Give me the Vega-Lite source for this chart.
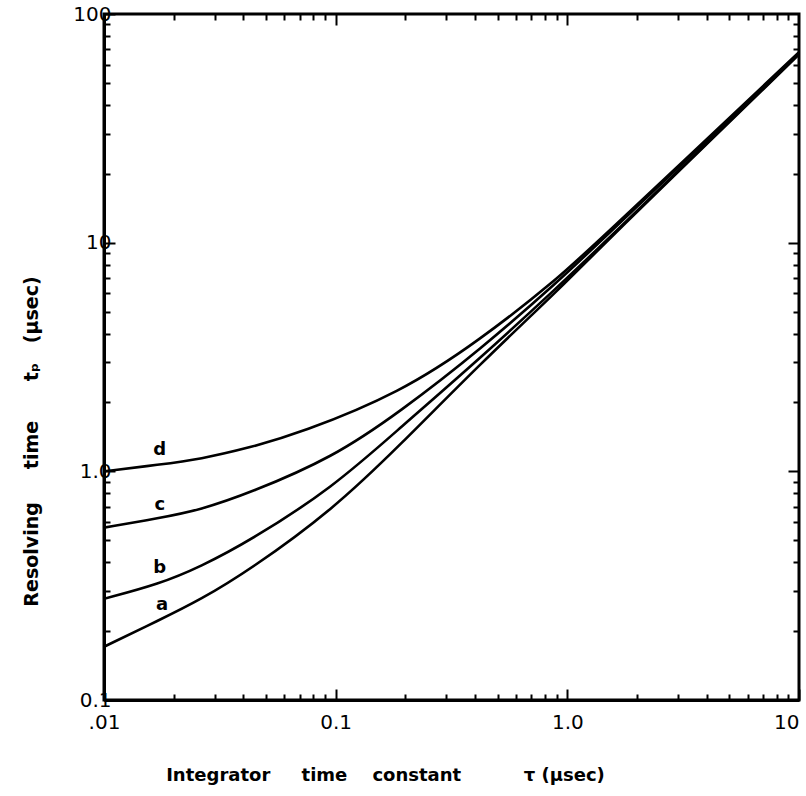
{
  "$schema": "https://vega.github.io/schema/vega-lite/v6.json",
  "width": 695,
  "height": 686,
  "autosize": {"type": "none"},
  "padding": {"left": 104, "top": 14, "right": 7, "bottom": 96},
  "background": "white",
  "config": {
    "view": {"stroke": "black", "strokeWidth": 3},
    "font": "DejaVu Sans",
    "axis": {"grid": false, "domainColor": "black", "domainWidth": 3, "tickColor": "black", "tickWidth": 2, "labelColor": "black", "titleColor": "black", "labelFont": "DejaVu Sans", "titleFont": "DejaVu Sans"}
  },
  "datasets": {
    "curves": [
      {"curve": "d", "tau": 0.01, "tp": 1.0},
      {"curve": "d", "tau": 0.0174, "tp": 1.07},
      {"curve": "d", "tau": 0.026, "tp": 1.13},
      {"curve": "d", "tau": 0.0427, "tp": 1.27},
      {"curve": "d", "tau": 0.0702, "tp": 1.47},
      {"curve": "d", "tau": 0.1895, "tp": 2.2},
      {"curve": "d", "tau": 0.42, "tp": 3.75},
      {"curve": "d", "tau": 0.929, "tp": 7.08},
      {"curve": "d", "tau": 1.38, "tp": 10.3},
      {"curve": "d", "tau": 10, "tp": 68},
      {"curve": "c", "tau": 0.01, "tp": 0.567},
      {"curve": "c", "tau": 0.0174, "tp": 0.625},
      {"curve": "c", "tau": 0.026, "tp": 0.678},
      {"curve": "c", "tau": 0.0427, "tp": 0.805},
      {"curve": "c", "tau": 0.0973, "tp": 1.15},
      {"curve": "c", "tau": 0.1895, "tp": 1.82},
      {"curve": "c", "tau": 0.42, "tp": 3.4},
      {"curve": "c", "tau": 0.929, "tp": 6.87},
      {"curve": "c", "tau": 1.38, "tp": 10.07},
      {"curve": "c", "tau": 10, "tp": 67.5},
      {"curve": "b", "tau": 0.01, "tp": 0.277},
      {"curve": "b", "tau": 0.0174, "tp": 0.322},
      {"curve": "b", "tau": 0.026, "tp": 0.382},
      {"curve": "b", "tau": 0.0427, "tp": 0.497},
      {"curve": "b", "tau": 0.0973, "tp": 0.85},
      {"curve": "b", "tau": 0.1895, "tp": 1.549},
      {"curve": "b", "tau": 0.42, "tp": 3.12},
      {"curve": "b", "tau": 0.929, "tp": 6.53},
      {"curve": "b", "tau": 1.38, "tp": 9.57},
      {"curve": "b", "tau": 10, "tp": 67},
      {"curve": "a", "tau": 0.01, "tp": 0.171},
      {"curve": "a", "tau": 0.0174, "tp": 0.224},
      {"curve": "a", "tau": 0.026, "tp": 0.274},
      {"curve": "a", "tau": 0.0427, "tp": 0.371},
      {"curve": "a", "tau": 0.0973, "tp": 0.68},
      {"curve": "a", "tau": 0.1895, "tp": 1.3},
      {"curve": "a", "tau": 0.42, "tp": 2.95},
      {"curve": "a", "tau": 0.929, "tp": 6.3},
      {"curve": "a", "tau": 1.38, "tp": 9.5},
      {"curve": "a", "tau": 10, "tp": 66.5}
    ],
    "labels": [
      {"label": "d", "tau": 0.0174, "tp": 1.24},
      {"label": "c", "tau": 0.0174, "tp": 0.713},
      {"label": "b", "tau": 0.0174, "tp": 0.378},
      {"label": "a", "tau": 0.0178, "tp": 0.261}
    ]
  },
  "layer": [
    {
      "data": {"name": "curves"},
      "mark": {"type": "line", "color": "black", "strokeWidth": 2.6, "interpolate": "basis", "clip": true},
      "encoding": {
        "x": {
          "field": "tau", "type": "quantitative",
          "scale": {"type": "log", "domain": [0.01, 10], "nice": false},
          "axis": {
            "orient": "bottom",
            "values": [0.01, 0.02, 0.03, 0.04, 0.05, 0.06, 0.07, 0.08, 0.09, 0.1, 0.2, 0.3, 0.4, 0.5, 0.6, 0.7, 0.8, 0.9, 1, 2, 3, 4, 5, 6, 7, 8, 9, 10],
            "labelExpr": "datum.value == 0.01 ? '.01' : datum.value == 0.1 ? '0.1' : datum.value == 1 ? '1.0' : datum.value == 10 ? '10' : ''",
            "labelAlign": {"condition": {"test": "datum.value == 10", "value": "right"}, "value": "center"},
            "tickSize": {"condition": {"test": "datum.value == 0.01 || datum.value == 0.1 || datum.value == 1 || datum.value == 10", "value": -11}, "value": -6},
            "labelFontSize": 20, "labelPadding": 23, "labelFlush": false,
            "title": "Integrator\u00a0\u00a0\u00a0\u00a0\u00a0time\u00a0\u00a0\u00a0\u00a0constant\u00a0\u00a0\u00a0\u00a0\u00a0\u00a0\u00a0\u00a0\u00a0\u00a0τ (μsec)",
            "titleFontSize": 18, "titleFontWeight": "bold",
            "titleX": 281, "titleY": 75, "titleAnchor": "middle", "titleBaseline": "middle"
          }
        },
        "y": {
          "field": "tp", "type": "quantitative",
          "scale": {"type": "log", "domain": [0.1, 100], "nice": false},
          "axis": {
            "orient": "left",
            "values": [0.1, 0.2, 0.3, 0.4, 0.5, 0.6, 0.7, 0.8, 0.9, 1, 2, 3, 4, 5, 6, 7, 8, 9, 10, 20, 30, 40, 50, 60, 70, 80, 90, 100],
            "labelExpr": "datum.value == 0.1 ? '0.1' : datum.value == 1 ? '1.0' : datum.value == 10 ? '10' : datum.value == 100 ? '100' : ''",
            "tickSize": {"condition": {"test": "datum.value == 0.1 || datum.value == 1 || datum.value == 10 || datum.value == 100", "value": -11}, "value": -6},
            "labelFontSize": 20, "labelPadding": 4, "labelFlush": false,
            "title": "Resolving\u00a0\u00a0\u00a0\u00a0\u00a0time\u00a0\u00a0\u00a0\u00a0\u00a0\u00a0tₚ\u00a0\u00a0\u00a0(μsec)",
            "titleFontSize": 19, "titleFontWeight": "bold",
            "titleX": -73, "titleY": 427, "titleAnchor": "middle", "titleBaseline": "middle", "titleAngle": -90
          }
        },
        "detail": {"field": "curve", "type": "nominal"}
      }
    },
    {
      "data": {"name": "labels"},
      "mark": {"type": "text", "fontSize": 18, "fontWeight": "bold", "color": "black", "baseline": "middle", "align": "center"},
      "encoding": {
        "x": {
          "field": "tau", "type": "quantitative",
          "scale": {"type": "log", "domain": [0.01, 10], "nice": false},
          "axis": {
            "orient": "top",
            "values": [0.02, 0.03, 0.04, 0.05, 0.06, 0.07, 0.08, 0.09, 0.1, 0.2, 0.3, 0.4, 0.5, 0.6, 0.7, 0.8, 0.9, 1, 2, 3, 4, 5, 6, 7, 8, 9],
            "labels": false, "title": null, "domain": false,
            "tickSize": {"condition": {"test": "datum.value == 0.1 || datum.value == 1", "value": -11}, "value": -6}
          }
        },
        "y": {
          "field": "tp", "type": "quantitative",
          "scale": {"type": "log", "domain": [0.1, 100], "nice": false},
          "axis": {
            "orient": "right",
            "values": [0.2, 0.3, 0.4, 0.5, 0.6, 0.7, 0.8, 0.9, 1, 2, 3, 4, 5, 6, 7, 8, 9, 10, 20, 30, 40, 50, 60, 70, 80, 90],
            "labels": false, "title": null, "domain": false,
            "tickSize": {"condition": {"test": "datum.value == 1 || datum.value == 10", "value": -11}, "value": -6}
          }
        },
        "text": {"field": "label", "type": "nominal"}
      }
    }
  ],
  "resolve": {"axis": {"x": "independent", "y": "independent"}}
}
